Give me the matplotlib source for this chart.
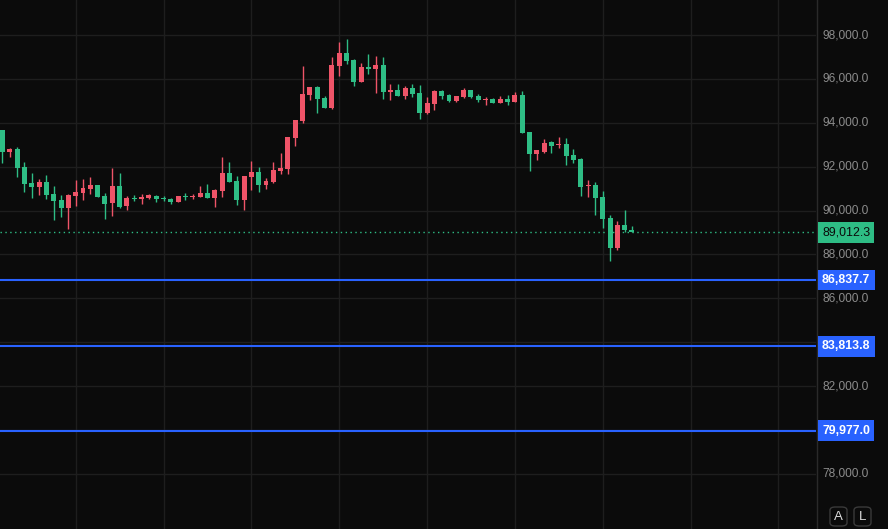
import matplotlib.pyplot as plt
import matplotlib.transforms as mtransforms
from matplotlib.patches import FancyBboxPatch

# candles (left to right)
opens = [93672, 92670, 92806, 91986, 91257, 91088, 91303, 90756, 90483, 90118,
         90678, 90801, 90984, 91166, 90665, 90360, 91120, 90209, 90587, 90542,
         90574, 90678, 90574, 90542, 90405, 90665, 90619, 90619, 90801, 90574,
         90892, 91713, 91348, 90483, 91531, 91758, 91166, 91303, 91804, 91894,
         93321, 94096, 95280, 95631, 95130, 94674, 96601, 97180, 96861, 95859,
         96542, 96451, 96633, 95403, 95494, 95221, 95585, 95357, 94446, 94856,
         95449, 95266, 94993, 95175, 95494, 95234, 95052, 95084, 94916, 95084,
         94947, 95266, 93581, 92578, 92683, 93125, 93002, 93034, 92533, 92350,
         91134, 91166, 90619, 89663, 88309, 89344, 89116]
highs = [93672, 92852, 92911, 92214, 91713, 91440, 91622, 91120, 90710, 90756,
         91394, 91440, 91531, 91166, 90788, 91940, 91713, 90651, 90724, 90756,
         90770, 90724, 90665, 90574, 90665, 90788, 90756, 91120, 91212, 90984,
         92442, 92214, 91562, 91576, 92259, 91986, 91485, 92227, 92638, 93353,
         94127, 96589, 95631, 95676, 95221, 96998, 97681, 97818, 96907, 96724,
         97134, 97043, 96998, 95768, 95768, 95676, 95768, 95722, 95175, 95494,
         95494, 95312, 95221, 95585, 95494, 95312, 95175, 95130, 95221, 95266,
         95403, 95449, 93581, 92761, 93262, 93171, 93353, 93307, 92806, 92396,
         91394, 91303, 90892, 89799, 89526, 90027, 89298]
lows = [92182, 92455, 91544, 90860, 90587, 90710, 90542, 89585, 89722, 89161,
        90223, 90496, 90770, 90633, 89631, 89767, 90132, 90040, 90437, 90314,
        90514, 90392, 90437, 90314, 90405, 90483, 90528, 90619, 90587, 90164,
        90619, 91303, 90255, 90040, 90938, 90847, 90984, 91271, 91681, 91681,
        92957, 93977, 95052, 94460, 94688, 94642, 96132, 96692, 95676, 95859,
        96223, 95357, 95084, 95052, 95221, 95084, 95175, 94173, 94401, 94583,
        95084, 94947, 94947, 95130, 95130, 94947, 94811, 94902, 94902, 94811,
        94947, 93549, 91817, 92305, 92638, 92624, 92852, 92077, 92168, 90665,
        90633, 89799, 89220, 87717, 88218, 89025, 89012]
closes = [92683, 92806, 91954, 91225, 91088, 91316, 90724, 90451, 90118, 90710,
          90860, 91029, 91166, 90633, 90300, 91120, 90177, 90574, 90542, 90619,
          90696, 90542, 90528, 90405, 90665, 90619, 90665, 90801, 90587, 90938,
          91713, 91316, 90483, 91576, 91758, 91166, 91348, 91849, 91940, 93353,
          94127, 95312, 95631, 95098, 94688, 96633, 97180, 96815, 95859, 96542,
          96451, 96633, 95403, 95494, 95221, 95585, 95312, 94446, 94902, 95449,
          95221, 94993, 95221, 95494, 95175, 95039, 95098, 94916, 95084, 94947,
          95266, 93549, 92592, 92761, 93080, 92943, 93048, 92487, 92305, 91088,
          91180, 90587, 89631, 88309, 89357, 89116, 89012.3]

last_price = 89012.3
levels = [86837.7, 83813.8, 79977.0]
ticks = [78000, 80000, 82000, 84000, 86000, 88000, 90000, 92000, 94000, 96000, 98000]

bg = "#0b0b0b"
up_col = "#ef5468"     # rising candles are red here
down_col = "#2ebd85"   # falling candles are green
blue = "#2962ff"

fig = plt.figure(figsize=(8.88, 5.29), dpi=100, facecolor=bg)
ax = fig.add_axes([0, 0, 816 / 888, 1])
ax.set_facecolor(bg)

x = list(range(len(opens)))
ax.set_xlim(-0.34, 111.14)
ax.set_ylim(75493, 99595)

# grid
for t in ticks:
    ax.axhline(t, color="#1e1e1e", lw=1, zorder=0)
for gx in range(10, 112, 12):
    ax.axvline(gx, color="#1e1e1e", lw=1, zorder=0)

# candles
min_h = 40
for i in x:
    o, h, l, c = opens[i], highs[i], lows[i], closes[i]
    col = up_col if c >= o else down_col
    ax.vlines(i, l, h, color=col, lw=1, zorder=2)
    bot = min(o, c)
    hgt = max(abs(c - o), min_h)
    ax.bar(i, hgt, bottom=bot, width=0.68, color=col, lw=0, zorder=3)

# last price dotted line
ax.axhline(last_price, color=down_col, lw=1, ls=(0, (1, 2.5)), zorder=1)

# level lines
for lv in levels:
    ax.axhline(lv, color=blue, lw=1.5, zorder=4)

for s in ax.spines.values():
    s.set_visible(False)
ax.set_xticks([])
ax.set_yticks([])

# right price scale
trans = mtransforms.blended_transform_factory(fig.transFigure, ax.transData)
fig.add_artist(plt.Line2D([816.5 / 888, 816.5 / 888], [0, 1], color="#2a2a2a", lw=1,
                          transform=fig.transFigure))
for t in ticks:
    fig.text(822 / 888, t, f"{t:,.1f}", transform=trans, color="#8c8c8c",
             fontsize=8.6, family="Liberation Sans", va="center", ha="left", zorder=2)


def price_box(val, fc, tc, bold):
    fig.text(822 / 888, val, f"{val:,.1f}", transform=trans, color=tc,
             fontsize=8.9, family="Liberation Sans", va="center", ha="left",
             fontweight="bold" if bold else "normal", zorder=5,
             bbox=dict(boxstyle="square,pad=0.35", fc=fc, ec="none"))


price_box(last_price, down_col, "#0b0b0b", False)
for lv in levels:
    price_box(lv, blue, "white", True)

# A / L buttons
for bx, letter in [(830, "A"), (854, "L")]:
    fig.add_artist(FancyBboxPatch((bx / 888, 3 / 529), 17 / 888, 19 / 529,
                                  boxstyle="round,pad=0,rounding_size=0.006",
                                  transform=fig.transFigure, fc="#0b0b0b",
                                  ec="#3a3a3a", lw=1))
    fig.text((bx + 8.5) / 888, 12.5 / 529, letter, color="#dddddd", fontsize=9.5,
             family="Liberation Sans", ha="center", va="center")

fig.savefig("out.png", dpi=100, facecolor=bg)
